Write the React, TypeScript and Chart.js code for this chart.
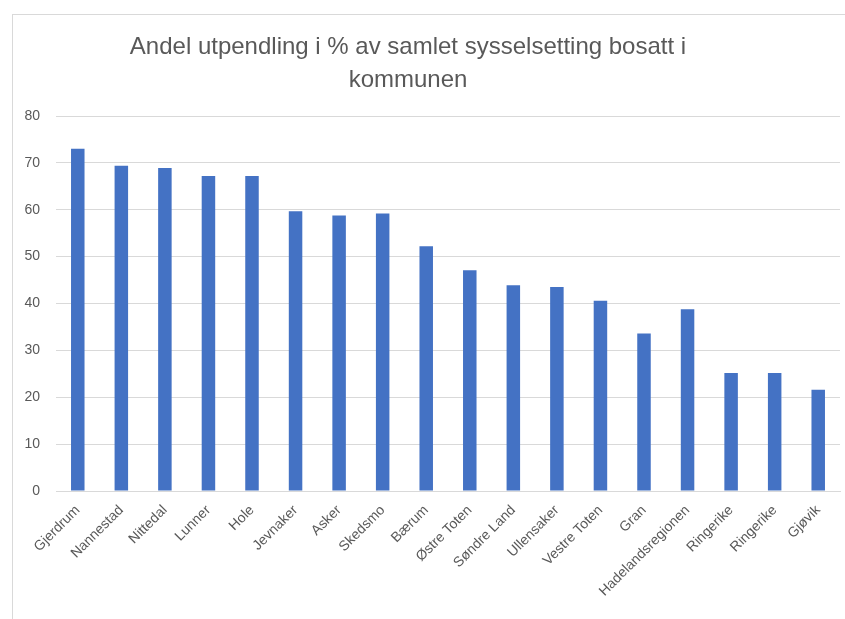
import React, { useEffect, useRef } from "react";
import { Chart, registerables } from "chart.js";

Chart.register(...registerables);

const categories = [
  "Gjerdrum", "Nannestad", "Nittedal", "Lunner", "Hole", "Jevnaker", "Asker", "Skedsmo", "Bærum",
  "Østre Toten", "Søndre Land", "Ullensaker", "Vestre Toten", "Gran", "Hadelandsregionen",
  "Ringerike", "Ringerike", "Gjøvik",
];
const values = [73.0, 69.4, 68.9, 67.2, 67.2, 59.7, 58.8, 59.2, 52.2, 47.1, 43.9, 43.5, 40.6, 33.6, 38.8, 25.2, 25.2, 21.6];
const titleLines = ["Andel utpendling i % av samlet sysselsetting bosatt i", "kommunen"];
const yMin = 0;
const yMax = 80;
const yStep = 10;

const FONT = "'Liberation Sans', Arial, sans-serif";

export default function App() {
  const ref = useRef<HTMLCanvasElement | null>(null);
  useEffect(() => {
    if (!ref.current) return;
    const chart = new Chart(ref.current, {
      type: "bar",
      data: {
        labels: categories,
        datasets: [
          {
            data: values,
            backgroundColor: "#4472c4",
            barPercentage: 0.62,
            categoryPercentage: 0.5,
          },
        ],
      },
      options: {
        animation: false,
        responsive: false,
        maintainAspectRatio: false,
        layout: { padding: { top: 116, right: 5, left: 0, bottom: 0 } },
        plugins: { legend: { display: false }, tooltip: { enabled: false }, title: { display: false } },
        scales: {
          x: {
            grid: { display: false, drawTicks: false },
            border: { color: "#d9d9d9" },
            ticks: {
              color: "#595959",
              font: { family: FONT, size: 14 },
              minRotation: 45,
              maxRotation: 45,
              autoSkip: false,
              padding: 11,
            },
            afterFit: (s: any) => { s.height = 128; },
          },
          y: {
            min: yMin,
            max: yMax,
            grid: { color: "#d9d9d9", drawTicks: false },
            border: { display: false },
            ticks: {
              stepSize: yStep,
              color: "#595959",
              font: { family: FONT, size: 14 },
              padding: 16,
            },
            afterFit: (s: any) => { s.width = 56; },
          },
        },
      },
    });
    return () => chart.destroy();
  }, []);
  return (
    <div style={{ position: "fixed", left: 0, top: 0, width: 845, height: 619, background: "#fff" }}>
      <div style={{ position: "absolute", left: 12, top: 14, right: 0, bottom: 0, borderTop: "1px solid #d9d9d9", borderLeft: "1px solid #d9d9d9" }} />
      <canvas ref={ref} width={845} height={619} style={{ position: "absolute", left: 0, top: 0 }} />
      <div style={{ position: "absolute", left: 0, width: 816, top: 29, textAlign: "center", fontFamily: FONT, fontSize: 24, lineHeight: "33px", color: "#595959" }}>
        {titleLines.map((t, i) => <div key={i}>{t}</div>)}
      </div>
    </div>
  );
}
